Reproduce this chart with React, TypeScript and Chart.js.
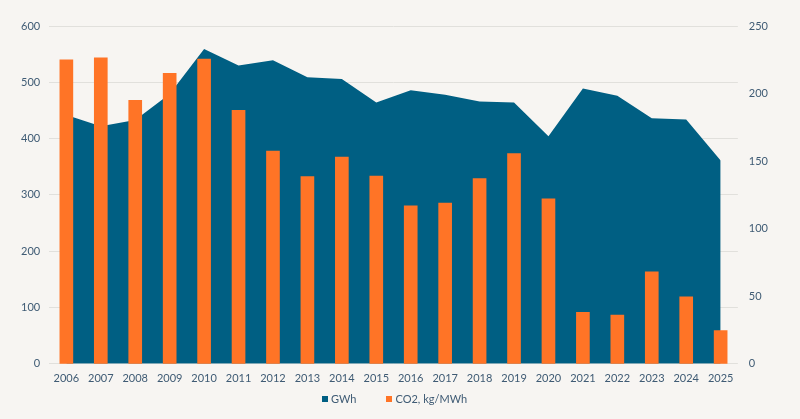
import React, { useEffect, useRef } from 'react';
import { Chart, registerables } from 'chart.js';

Chart.register(...registerables);

const years = [
  '2006', '2007', '2008', '2009', '2010', '2011', '2012', '2013', '2014', '2015',
  '2016', '2017', '2018', '2019', '2020', '2021', '2022', '2023', '2024', '2025',
];

// GWh (left axis, area)
const gwh = [442, 422, 433, 479, 559, 530, 539, 509, 506, 464, 486, 478, 466, 464, 404, 489, 476, 436, 434, 361];

// CO2, kg/MWh (right axis, bars)
const co2 = [225, 226.5, 195, 215, 225.5, 187.5, 157.5, 138.5, 153, 139, 117, 119, 137, 155.5, 122, 38, 36, 68, 49.5, 24.5];

const leftTicks = [0, 100, 200, 300, 400, 500, 600];
const rightTicks = [0, 50, 100, 150, 200, 250];

const AREA = '#005f83';
const ORANGE = '#ff7426';
const TICK = '#3f5b74';
const FONT = 'Lato, "Open Sans", sans-serif';

const App: React.FC = () => {
  const canvasRef = useRef<HTMLCanvasElement>(null);
  const chartRef = useRef<Chart | null>(null);

  useEffect(() => {
    document.body.style.margin = '0';
    if (!canvasRef.current) return;
    if (chartRef.current) chartRef.current.destroy();

    chartRef.current = new Chart(canvasRef.current, {
      type: 'bar',
      data: {
        labels: years,
        datasets: [
          {
            type: 'line',
            label: 'GWh',
            data: gwh,
            yAxisID: 'y',
            backgroundColor: AREA,
            borderColor: AREA,
            borderWidth: 0,
            pointRadius: 0,
            fill: 'origin',
            tension: 0,
            order: 1,
          },
          {
            type: 'bar',
            label: 'CO2, kg/MWh',
            data: co2,
            yAxisID: 'y1',
            backgroundColor: ORANGE,
            barThickness: 13,
            order: 0,
          },
        ],
      },
      options: {
        animation: false,
        responsive: true,
        maintainAspectRatio: false,
        layout: { padding: { left: 12, right: 21, top: 26, bottom: 34 } },
        plugins: {
          tooltip: { enabled: false },
          legend: { display: false },
        },
        scales: {
          x: {
            offset: true,
            border: { display: false },
            grid: { display: false },
            ticks: { color: TICK, font: { family: FONT, size: 11 }, padding: 0 },
          },
          y: {
            position: 'left',
            min: 0,
            max: 600,
            afterBuildTicks: (axis) => {
              axis.ticks = leftTicks.map((v) => ({ value: v }));
            },
            border: { display: false },
            grid: { color: '#e1e0dc', drawTicks: false },
            ticks: { color: TICK, font: { family: FONT, size: 11 }, padding: 9 },
          },
          y1: {
            position: 'right',
            min: 0,
            max: 250,
            afterBuildTicks: (axis) => {
              axis.ticks = rightTicks.map((v) => ({ value: v }));
            },
            border: { display: false },
            grid: { display: false, drawTicks: false },
            ticks: { color: TICK, font: { family: FONT, size: 11 }, padding: 11 },
          },
        },
      },
    });

    return () => {
      if (chartRef.current) {
        chartRef.current.destroy();
        chartRef.current = null;
      }
    };
  }, []);

  const item = (color: string, text: string) => (
    <span style={{ display: 'inline-flex', alignItems: 'center' }}>
      <span style={{ width: 6, height: 6, background: color, marginRight: 3 }} />
      <span>{text}</span>
    </span>
  );

  return (
    <div style={{ width: 800, height: 419, background: '#f7f5f2', position: 'relative' }}>
      <canvas ref={canvasRef} />
      <div
        style={{
          position: 'absolute',
          left: 322,
          top: 392,
          display: 'flex',
          gap: 30,
          fontFamily: FONT,
          fontSize: 11,
          color: TICK,
          lineHeight: '14px',
        }}
      >
        {item(AREA, 'GWh')}
        {item(ORANGE, 'CO2, kg/MWh')}
      </div>
    </div>
  );
};

export default App;
